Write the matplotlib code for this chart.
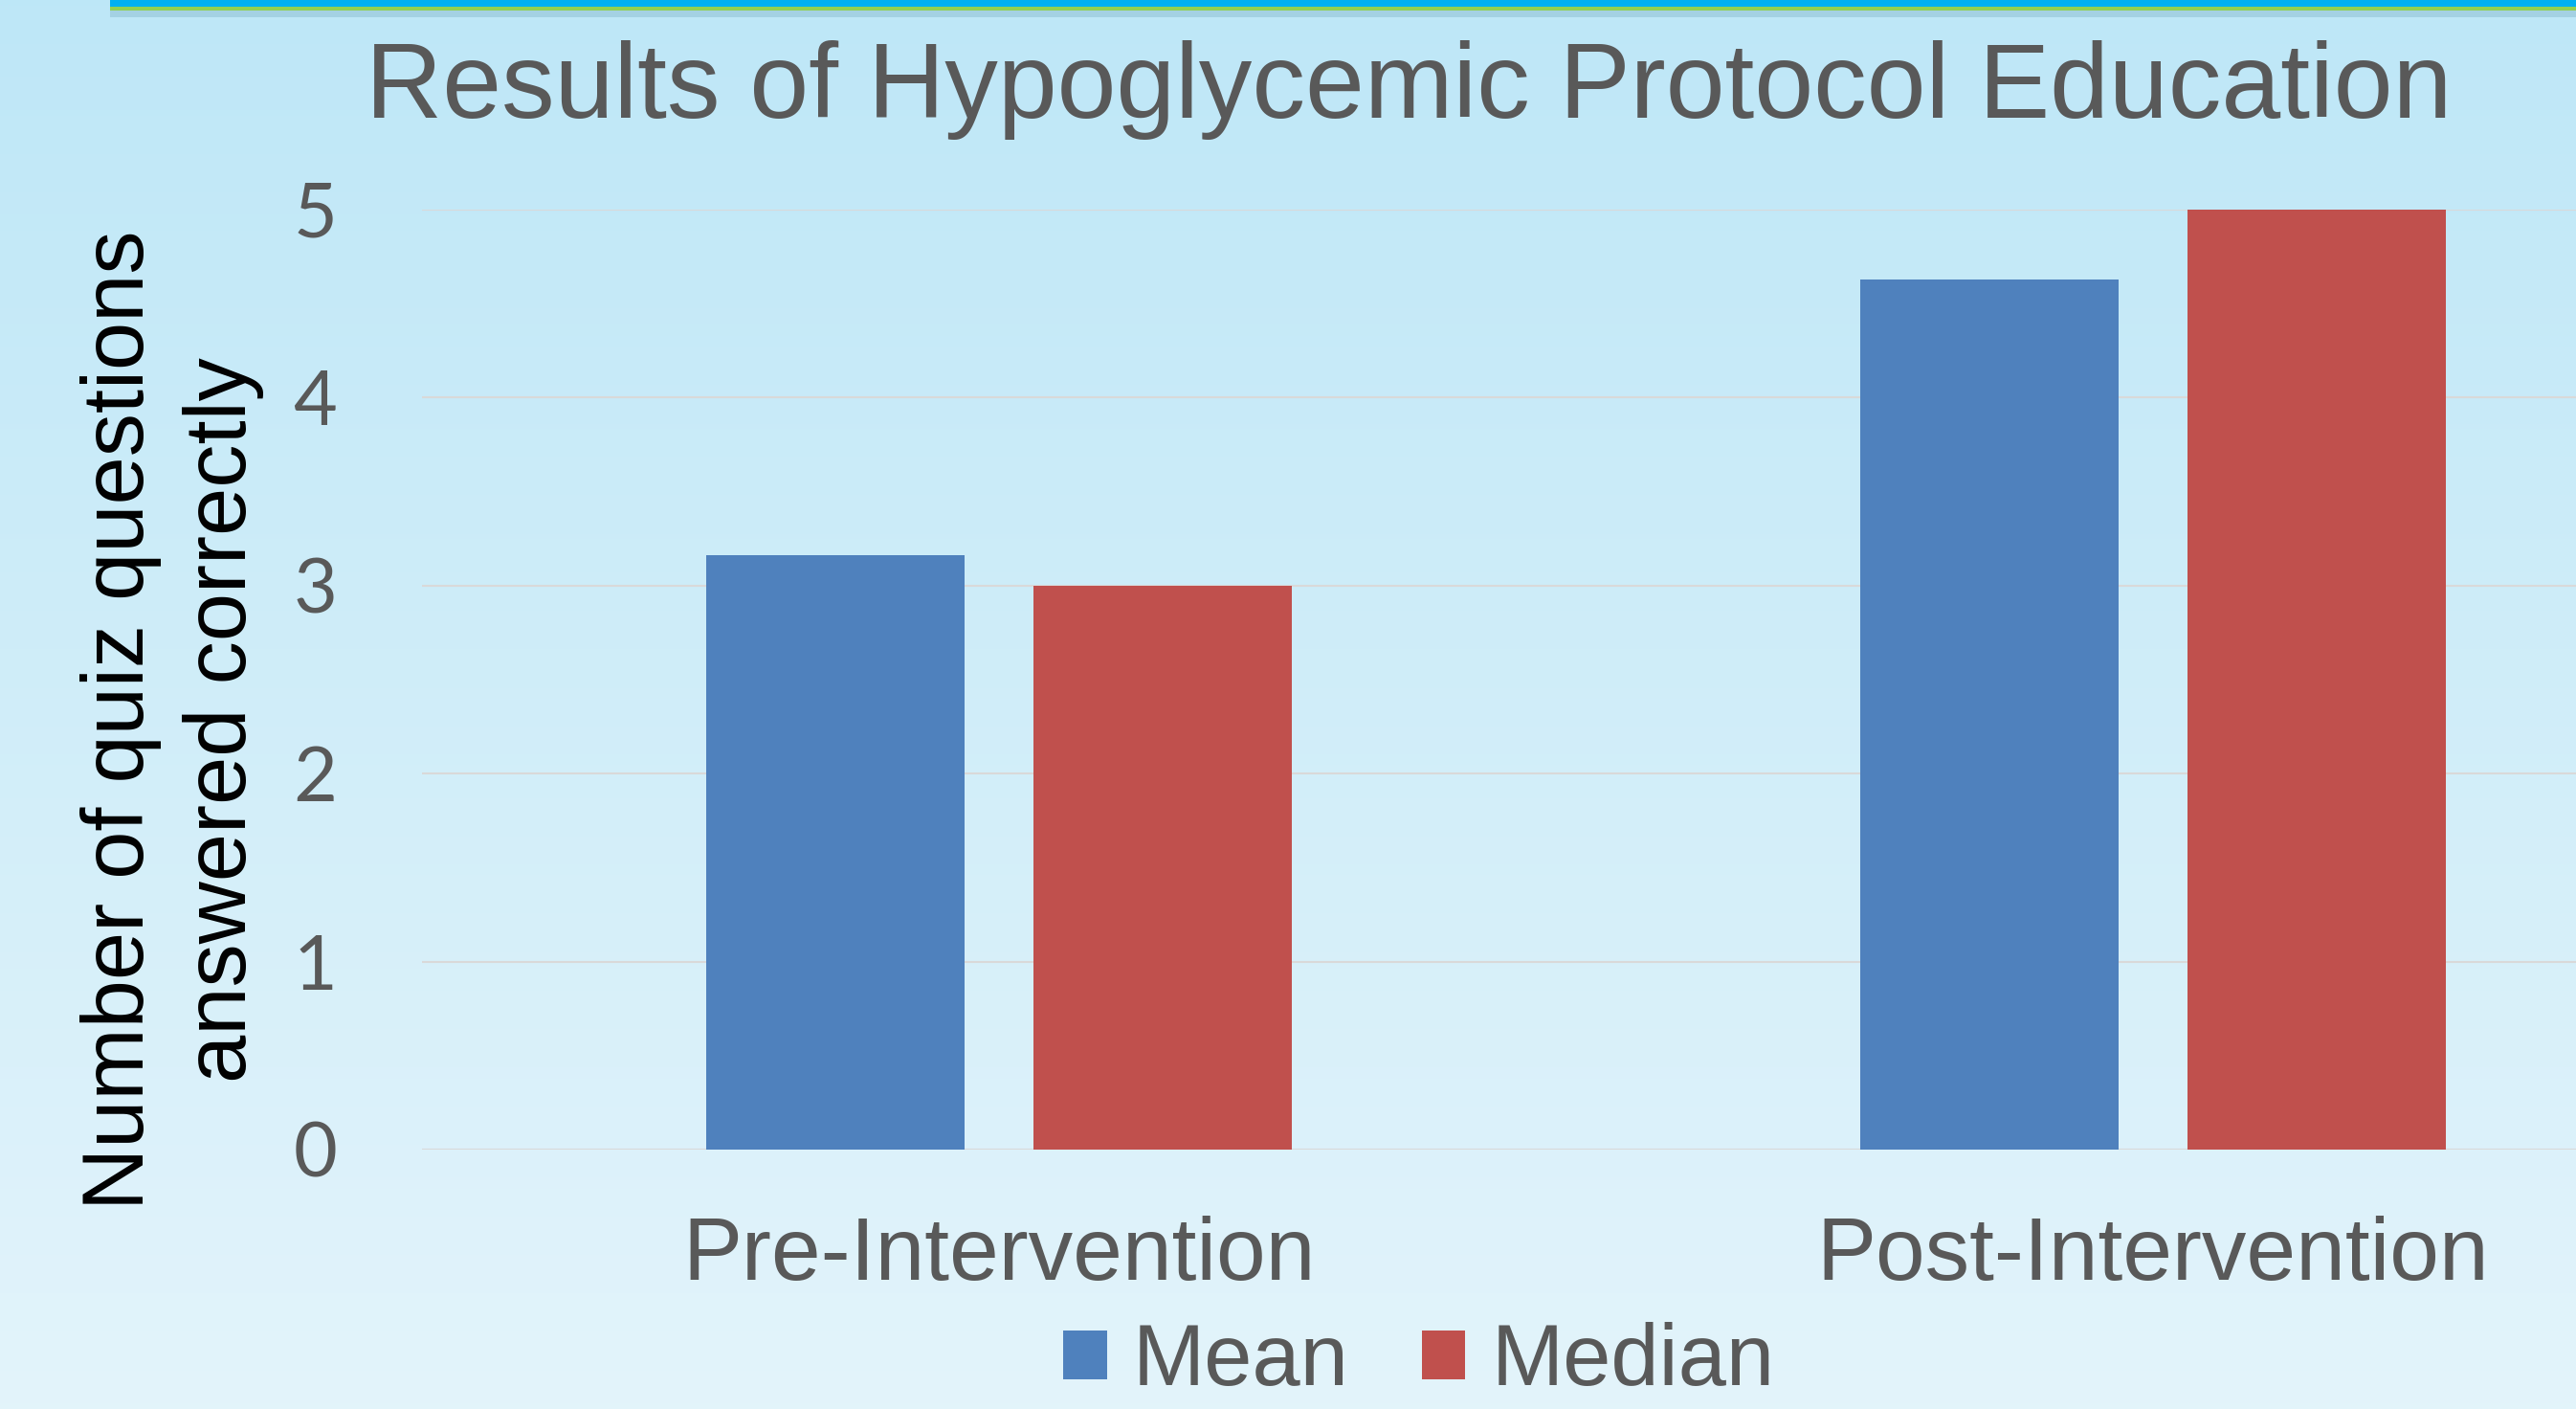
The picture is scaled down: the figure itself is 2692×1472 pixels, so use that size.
import numpy as np
import matplotlib
matplotlib.use("Agg")
import matplotlib.pyplot as plt
from matplotlib.patches import Rectangle

# data
categories = ["Pre-Intervention", "Post-Intervention"]
mean_vals = [3.16, 4.63]
median_vals = [3.0, 5.0]
series_names = ["Mean", "Median"]
yticks = [0, 1, 2, 3, 4, 5]

W, H = 2692, 1472
fig = plt.figure(figsize=(W / 100, H / 100), dpi=100)

# slide background: soft blue gradient, lighter toward the bottom
bg = fig.add_axes([0, 0, 1, 1], zorder=-10)
top = np.array([0.745, 0.906, 0.969])
bot = np.array([0.890, 0.957, 0.984])
t = np.linspace(0, 1, 256)[:, None, None]
grad = top * (1 - t) + bot * t
grad = np.repeat(grad, 2, axis=1)
bg.imshow(grad, aspect="auto", extent=[0, 1, 0, 1], origin="upper")
bg.set_xlim(0, 1)
bg.set_ylim(0, 1)
bg.axis("off")

# thin header band at top of slide
bg.add_patch(Rectangle((115 / W, 1 - 18 / H), 1, 7 / H, color="#6a9fb5", alpha=0.3, lw=0))
bg.add_patch(Rectangle((115 / W, 1 - 11 / H), 1, 4 / H, color="#92D050", lw=0))
bg.add_patch(Rectangle((115 / W, 1 - 7 / H), 1, 7 / H, color="#00B0F0", lw=0))

ax = fig.add_axes([441 / W, 271 / H, 2412 / W, 982 / H])
ax.patch.set_alpha(0)

x = np.arange(len(categories))
w = 0.224
off = 0.142
ax.bar(x - off, mean_vals, w, color="#4F81BD", label=series_names[0], zorder=3)
ax.bar(x + off, median_vals, w, color="#C0504D", label=series_names[1], zorder=3)

ax.set_xlim(-0.5, 1.5)
ax.set_ylim(0, 5)
ax.set_yticks(yticks)
ax.yaxis.grid(True, color="#D9D9D9", lw=1.5, zorder=0)
ax.set_axisbelow(True)
for s in ax.spines.values():
    s.set_visible(False)
ax.tick_params(axis="both", length=0)
ax.tick_params(axis="y", pad=64, labelsize=57, labelcolor="#595959")
ax.tick_params(axis="x", pad=50, labelsize=67, labelcolor="#595959")
ax.set_xticks(x)
ax.set_xticklabels(categories, fontfamily="Liberation Sans")
for lab in ax.get_yticklabels():
    lab.set_fontfamily("Lato")

fig.text(1472 / W, 1 - 123 / H, "Results of Hypoglycemic Protocol Education",
         ha="center", va="baseline", fontsize=80, color="#595959",
         fontfamily="Liberation Sans")

fig.text(180 / W, 1 - 752 / H, "Number of quiz questions\nanswered correctly",
         rotation=90, ha="center", va="center", multialignment="center",
         fontsize=65, color="black", fontfamily="Liberation Sans", linespacing=1.33)

fig.legend(loc="lower center", bbox_to_anchor=(1483 / W, -0.033), ncol=2,
           frameon=False, prop={"family": "Liberation Sans", "size": 65},
           labelcolor="#595959", handlelength=0.5, handleheight=0.5,
           handletextpad=0.3, columnspacing=0.85, borderpad=0.1)

fig.savefig("out.png", dpi=100)
